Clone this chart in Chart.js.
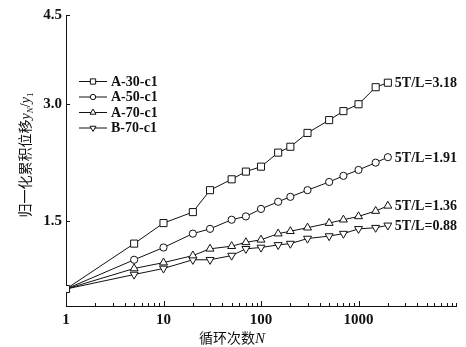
<!DOCTYPE html>
<html>
<head>
<meta charset="utf-8">
<script src="https://cdn.jsdelivr.net/npm/chart.js@4.4.0/dist/chart.umd.min.js"></script>
<style>
  html, body { margin: 0; padding: 0; background: #fff; }
  canvas { display: block; }
</style>
</head>
<body>
<canvas id="chart" width="466" height="347"></canvas>
<script>
// cycle counts and normalised cumulative displacement yN/y1
const cycles = [1, 5, 10, 20, 30, 50, 70, 100, 150, 200, 300, 500, 700, 1000, 1500, 2000];
const seriesNames = ['A-30-c1', 'A-50-c1', 'A-70-c1', 'B-70-c1'];
const a30 = [1.00, 1.31, 1.48, 1.58, 1.80, 1.92, 2.01, 2.07, 2.25, 2.33, 2.53, 2.73, 2.88, 3.00, 3.32, 3.41];
const a50 = [1.00, 1.19, 1.28, 1.39, 1.43, 1.51, 1.54, 1.61, 1.68, 1.73, 1.80, 1.89, 1.96, 2.03, 2.12, 2.19];
const a70 = [1.00, 1.13, 1.17, 1.22, 1.27, 1.29, 1.32, 1.34, 1.39, 1.41, 1.44, 1.48, 1.51, 1.54, 1.59, 1.64];
const b70 = [1.00, 1.09, 1.13, 1.19, 1.19, 1.22, 1.27, 1.28, 1.30, 1.31, 1.35, 1.37, 1.39, 1.43, 1.44, 1.46];
const endLabels = ['5T/L=3.18', '5T/L=1.91', '5T/L=1.36', '5T/L=0.88'];

const xMin = 1, xMax = 10000;
const xLabelled = [1, 10, 100, 1000];
const yMin = 0.904, yMax = 5.1;
const yTicks = [1.5, 3.0, yMax];
const yTickLabels = ['1.5', '3.0', '4.5'];

const SERIF = '"Liberation Serif", "Times New Roman", serif';
const CJK = '"Noto Sans CJK SC", sans-serif';

const markers = [
  { pointStyle: 'rect', rotation: 0, radius: 5 },
  { pointStyle: 'circle', rotation: 0, radius: 3.6 },
  { pointStyle: 'triangle', rotation: 0, radius: 4.6 },
  { pointStyle: 'triangle', rotation: 180, radius: 4.6 }
];

function makeSet(i, values) {
  return {
    label: seriesNames[i],
    data: cycles.map((n, k) => ({ x: n, y: values[k] })),
    borderColor: '#111',
    borderWidth: 1,
    backgroundColor: '#fff',
    pointStyle: markers[i].pointStyle,
    pointRotation: markers[i].rotation,
    pointRadius: markers[i].radius,
    pointBorderColor: '#111',
    pointBackgroundColor: '#fff',
    pointBorderWidth: 1,
    tension: 0,
    fill: false
  };
}

// inward tick marks on both axes
const tickMarks = {
  id: 'tickMarks',
  afterDraw(chart) {
    const ctx = chart.ctx, xs = chart.scales.x, ys = chart.scales.y;
    const area = chart.chartArea;
    ctx.save();
    ctx.strokeStyle = '#111';
    ctx.lineWidth = 1;
    ctx.beginPath();
    xs.ticks.forEach(t => {
      const px = Math.round(xs.getPixelForValue(t.value)) + 0.5;
      const major = xLabelled.includes(t.value);
      ctx.moveTo(px, area.bottom);
      ctx.lineTo(px, area.bottom - (major ? 5 : 3));
    });
    ys.ticks.forEach(t => {
      const py = Math.round(ys.getPixelForValue(t.value)) + 0.5;
      ctx.moveTo(area.left, py);
      ctx.lineTo(area.left + 4, py);
    });
    ctx.stroke();
    ctx.restore();
  }
};

// axis titles with italic variable and subscripts
const axisTitles = {
  id: 'axisTitles',
  afterDraw(chart) {
    const ctx = chart.ctx;
    function drawRun(parts, cx, cy) {
      let total = 0;
      parts.forEach(p => { ctx.font = p.font; p.w = ctx.measureText(p.t).width; total += p.w; });
      let x = cx - total / 2;
      parts.forEach(p => {
        ctx.font = p.font;
        ctx.fillText(p.t, x, cy + 5 + (p.dy || 0));
        x += p.w;
      });
    }
    ctx.save();
    ctx.fillStyle = '#111';
    ctx.textBaseline = 'alphabetic';
    ctx.textAlign = 'left';
    drawRun([
      { t: '循环次数', font: '14px ' + CJK },
      { t: 'N', font: 'italic 15px ' + SERIF }
    ], 232, 338);
    ctx.translate(25, 155);
    ctx.rotate(-Math.PI / 2);
    drawRun([
      { t: '归一化累积位移', font: '14px ' + CJK },
      { t: 'y', font: 'italic 14px ' + SERIF },
      { t: 'N', font: 'italic 9px ' + SERIF, dy: 3 },
      { t: '/', font: '14px ' + SERIF },
      { t: 'y', font: 'italic 14px ' + SERIF },
      { t: '1', font: '9px ' + SERIF, dy: 3 }
    ], 0, 0);
    ctx.restore();
  }
};

// legend block in the upper left of the plot
const insideLegend = {
  id: 'insideLegend',
  afterDraw(chart) {
    const ctx = chart.ctx;
    ctx.save();
    ctx.font = 'bold 14px ' + SERIF;
    ctx.textBaseline = 'middle';
    chart.data.datasets.forEach((ds, i) => {
      const y = 81 + i * 15.5;
      ctx.strokeStyle = '#111';
      ctx.lineWidth = 1;
      ctx.beginPath();
      ctx.moveTo(79, y + 0.5);
      ctx.lineTo(107, y + 0.5);
      ctx.stroke();
      ctx.fillStyle = '#fff';
      Chart.helpers.drawPoint(ctx, {
        pointStyle: ds.pointStyle,
        rotation: ds.pointRotation,
        radius: ds.pointRadius * 0.75,
        borderWidth: 1
      }, 93, y + 0.5);
      ctx.fillStyle = '#111';
      ctx.fillText(ds.label, 111, y + 1);
    });
    ctx.restore();
  }
};

// labels next to the last point of each curve
const endText = {
  id: 'endText',
  afterDatasetsDraw(chart) {
    const ctx = chart.ctx;
    ctx.save();
    ctx.font = 'bold 14px ' + SERIF;
    ctx.fillStyle = '#111';
    ctx.textBaseline = 'middle';
    chart.data.datasets.forEach((ds, i) => {
      const pts = chart.getDatasetMeta(i).data;
      const last = pts[pts.length - 1];
      ctx.fillText(endLabels[i], last.x + 7, last.y + 1);
    });
    ctx.restore();
  }
};

new Chart(document.getElementById('chart'), {
  type: 'line',
  data: {
    datasets: [makeSet(0, a30), makeSet(1, a50), makeSet(2, a70), makeSet(3, b70)]
  },
  options: {
    responsive: false,
    animation: false,
    devicePixelRatio: 1,
    layout: { padding: { top: 15, right: 10, left: 0, bottom: 0 } },
    plugins: {
      legend: { display: false },
      tooltip: { enabled: false }
    },
    scales: {
      x: {
        type: 'logarithmic',
        min: xMin,
        max: xMax,
        afterBuildTicks(scale) {
          const ticks = [];
          for (let d = 1; d < xMax; d *= 10) {
            for (let m = 1; m <= 9; m++) ticks.push({ value: m * d });
          }
          ticks.push({ value: xMax });
          scale.ticks = ticks;
        },
        afterFit(scale) { scale.height = 41; },
        grid: { display: false, drawTicks: false },
        border: { display: true, color: '#111', width: 1 },
        ticks: {
          autoSkip: false,
          maxRotation: 0,
          padding: 5,
          color: '#111',
          font: { family: SERIF, size: 15, weight: 'bold' },
          callback: v => xLabelled.includes(v) ? String(v) : ''
        }
      },
      y: {
        type: 'logarithmic',
        min: yMin,
        max: yMax,
        afterBuildTicks(scale) {
          scale.ticks = yTicks.map(v => ({ value: v }));
        },
        afterFit(scale) { scale.width = 66; },
        grid: { display: false, drawTicks: false },
        border: { display: true, color: '#111', width: 1 },
        ticks: {
          padding: 4,
          color: '#111',
          font: { family: SERIF, size: 15, weight: 'bold' },
          callback: (v, i) => yTickLabels[i]
        }
      }
    }
  },
  plugins: [tickMarks, axisTitles, insideLegend, endText]
});
</script>
</body>
</html>
